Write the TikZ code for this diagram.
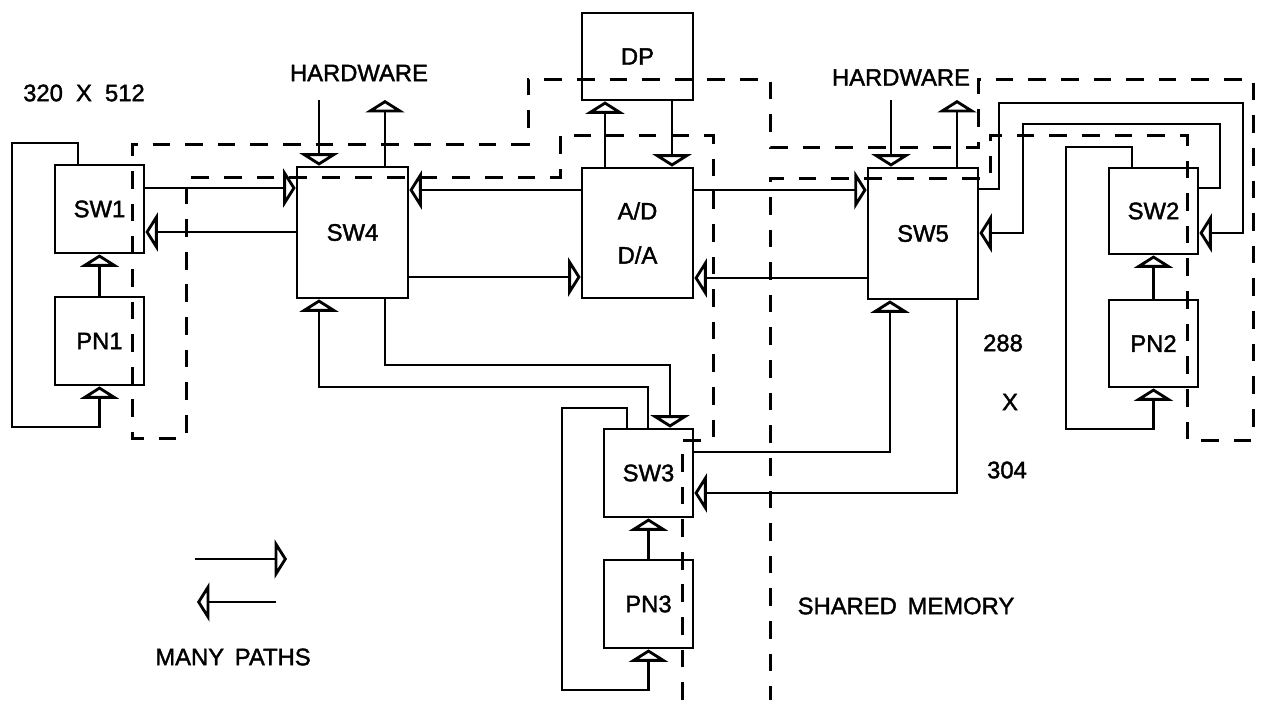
\documentclass[tikz,border=0pt]{standalone}
\usepackage{fontspec}
\setmainfont{Liberation Sans}[BoldFont=Liberation Sans,BoldFeatures={FakeBold=1.6}]
\usetikzlibrary{arrows.meta}
\begin{document}
\begin{tikzpicture}[x=0.567pt,y=-0.567pt,line width=1.6pt,
  box/.style={draw,line width=1.6pt,inner sep=0pt,font=\fontsize{13.5}{16}\selectfont\bfseries},
  arr/.style={-{Triangle[open,length=7pt,width=22pt]}},
  dashline/.style={line width=1.7pt,dash pattern=on 10pt off 8.5pt},
  lbl/.style={font=\fontsize{13.5}{16}\selectfont\bfseries,inner sep=0pt}]
\useasboundingbox (0,0) rectangle (1268,700);

% boxes
\node[box,minimum width=50.46pt,minimum height=49.9pt] (sw1) at (99.5,209) {SW1};
\node[box,minimum width=50.46pt,minimum height=49.9pt] (pn1) at (99.5,341) {PN1};
\node[box,minimum width=62.94pt,minimum height=74.28pt] (sw4) at (352.5,232.5) {SW4};
\node[box,minimum width=62.94pt,minimum height=49.33pt] (dp) at (637.5,56.5) {DP};
\node[box,minimum width=62.94pt,minimum height=73.71pt,align=center] (adda) at (637.5,233) {A/D\\[9pt]D/A};
\node[box,minimum width=62.37pt,minimum height=74.28pt] (sw5) at (923,233.5) {SW5};
\node[box,minimum width=50.46pt,minimum height=48.76pt] (sw2) at (1153.5,211) {SW2};
\node[box,minimum width=50.46pt,minimum height=49.33pt] (pn2) at (1153.5,343.5) {PN2};
\node[box,minimum width=50.46pt,minimum height=49.9pt] (sw3) at (648.5,473) {SW3};
\node[box,minimum width=50.46pt,minimum height=49.9pt] (pn3) at (648.5,604) {PN3};

% dashed boundary
\draw[dashline] (682,700) -- (682,440) -- (713,440) -- (713,135) -- (560,135) -- (560,177)
  -- (186,177) -- (186,438) -- (132,438) -- (132,144) -- (528,144) -- (528,79) -- (770,79)
  -- (770,147) -- (978,147) -- (978,79) -- (1253,79) -- (1253,440) -- (1187,440) -- (1187,135)
  -- (990,135) -- (990,178) -- (770,178) -- (770,700);

% SW1 / PN1
\draw[arr] (sw1.east |- 0,188) -- (sw4.west |- 0,188);
\draw[arr] (sw4.west |- 0,232) -- (sw1.east |- 0,232);
\draw[arr] (pn1.north) -- (sw1.south);
\draw[arr] (sw1.north -| 78,0) -- (78,143) -- (12,143) -- (12,427) -- (pn1.south |- 0,427) -- (pn1.south);

% hardware SW4
\coordinate (hw4in) at (319,100);
\coordinate (hw4out) at (385,100);
\draw[arr] (hw4in) -- (hw4in |- sw4.north);
\draw[arr] (hw4out |- sw4.north) -- (hw4out);
\node[lbl] (hw4) at (359,73) {HARDWARE};

% SW4 <-> A/D
\draw[arr] (sw4.east |- 0,277) -- (adda.west |- 0,277);
\draw[arr] (adda.west |- 0,190) -- (sw4.east |- 0,190);

% DP
\draw[arr] (adda.north -| 605,0) -- (dp.south -| 605,0);
\draw[arr] (dp.south -| 672,0) -- (adda.north -| 672,0);

% A/D <-> SW5
\draw[arr] (adda.east |- 0,190) -- (sw5.west |- 0,190);
\draw[arr] (sw5.west |- 0,278) -- (adda.east |- 0,278);

% hardware SW5
\coordinate (hw5in) at (891,100);
\coordinate (hw5out) at (957,100);
\draw[arr] (hw5in) -- (hw5in |- sw5.north);
\draw[arr] (hw5out |- sw5.north) -- (hw5out);
\node[lbl] (hw5) at (901,77.5) {HARDWARE};

% SW4 <-> SW3
\draw[arr] (sw4.south -| 385,0) -- (385,365) -- (670,365) -- (sw3.north -| 670,0);
\draw[arr] (sw3.north -| 648,0) -- (648,387) -- (319,387) -- (sw4.south -| 319,0);

% SW3 / PN3
\draw[arr] (sw3.north -| 627,0) -- (627,408) -- (562,408) -- (562,690) -- (pn3.south |- 0,690) -- (pn3.south);
\draw[arr] (pn3.north) -- (sw3.south);

% SW3 <-> SW5
\draw[arr] (sw3.east |- 0,452) -- (890,452) -- (sw5.south -| 890,0);
\draw[arr] (sw5.south -| 957,0) -- (957,493) -- (sw3.east |- 0,493);

% SW5 <-> SW2
\draw[arr] (sw5.east |- 0,189) -- (999,189) -- (999,103) -- (1243,103) -- (1243,233) -- (sw2.east |- 0,233);
\draw[arr] (sw2.east |- 0,188) -- (1220,188) -- (1220,124) -- (1023,124) -- (1023,233) -- (sw5.east |- 0,233);

% SW2 / PN2
\draw[arr] (sw2.north -| 1132,0) -- (1132,147) -- (1066,147) -- (1066,429) -- (pn2.south |- 0,429) -- (pn2.south);
\draw[arr] (pn2.north) -- (sw2.south);

% labels
\node[lbl] (dim1) at (84,93) {320\hspace{0.55em}X\hspace{0.55em}512};
\node[lbl] (d288) at (1003,343) {288};
\node[lbl] (dx) at (1010,402) {X};
\node[lbl] (d304) at (1007,470) {304};
\node[lbl] (shm) at (906,606) {SHARED\hspace{0.45em}MEMORY};
\node[lbl] (many) at (233,657) {MANY\hspace{0.45em}PATHS};

% legend
\coordinate (l1a) at (195,559);
\coordinate (l1b) at (287,559);
\coordinate (l2a) at (276,602);
\coordinate (l2b) at (197,602);
\draw[arr] (l1a) -- (l1b);
\draw[arr] (l2a) -- (l2b);
\end{tikzpicture}
\end{document}
